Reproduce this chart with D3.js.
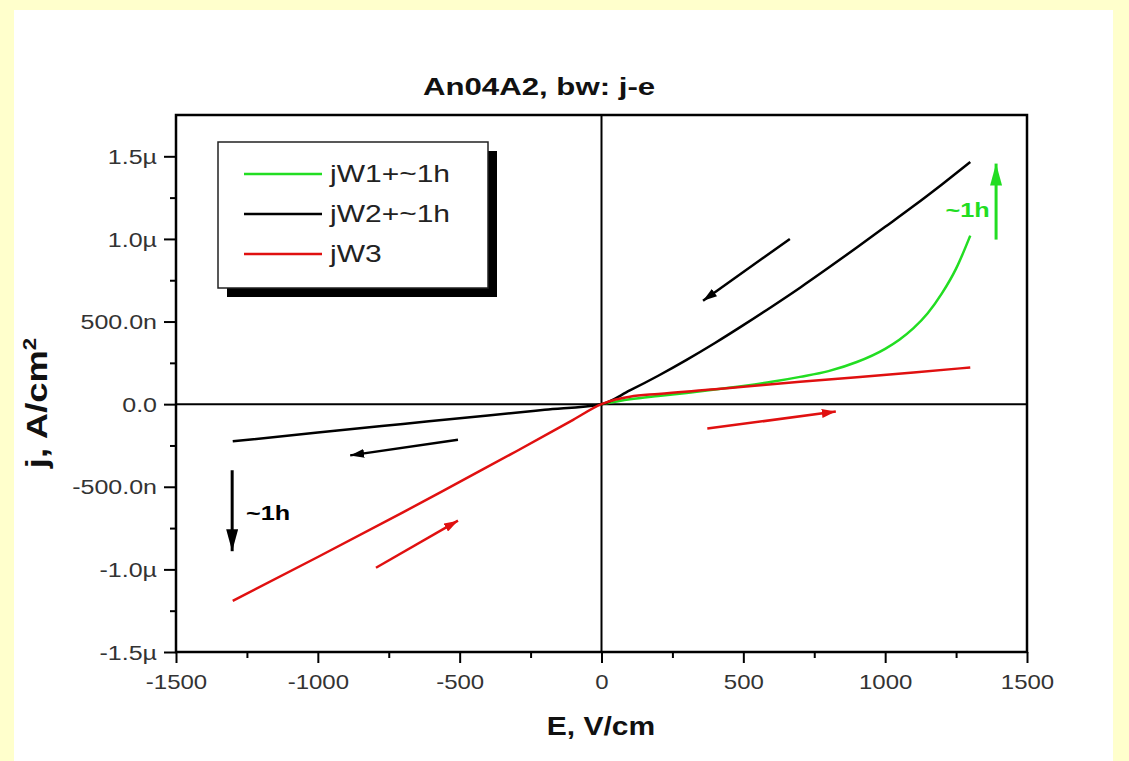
<!DOCTYPE html>
<html>
<head>
<meta charset="utf-8">
<script src="https://cdn.jsdelivr.net/npm/d3@7"></script>
<style>
body{margin:0;background:#ffffcc;}
svg{display:block;}
text{font-family:"Liberation Sans",Arial,sans-serif;}
</style>
</head>
<body>
<div id="chart"></div>
<script>
// j-E curves (E in V/cm, j in A/cm2)
var greenE = [0, 100, 200, 300, 400, 500, 600, 700, 800, 900, 1000, 1050, 1100, 1150, 1200, 1250, 1300];
var greenJ = [0, 0.03e-6, 0.05e-6, 0.068e-6, 0.088e-6, 0.11e-6, 0.135e-6, 0.165e-6, 0.2e-6, 0.255e-6, 0.335e-6, 0.39e-6, 0.46e-6, 0.55e-6, 0.67e-6, 0.82e-6, 1.02e-6];

var blackE = [-1300, -1000, -700, -400, -200, 0, 100, 200, 300, 400, 500, 600, 700, 800, 900, 1000, 1100, 1200, 1300];
var blackJ = [-0.225e-6, -0.172e-6, -0.12e-6, -0.068e-6, -0.034e-6, 0, 0.083e-6, 0.172e-6, 0.268e-6, 0.37e-6, 0.478e-6, 0.59e-6, 0.705e-6, 0.825e-6, 0.948e-6, 1.073e-6, 1.199e-6, 1.33e-6, 1.465e-6];

var redE = [-1300, -1000, -700, -500, -300, -100, 0, 50, 100, 200, 400, 500, 700, 900, 1100, 1300];
var redJ = [-1.19e-6, -0.925e-6, -0.655e-6, -0.47e-6, -0.285e-6, -0.095e-6, 0, 0.028e-6, 0.045e-6, 0.062e-6, 0.09e-6, 0.105e-6, 0.135e-6, 0.163e-6, 0.192e-6, 0.222e-6];

var seriesNames = ["jW1+~1h", "jW2+~1h", "jW3"];

var xTicks = [-1500, -1000, -500, 0, 500, 1000, 1500];
var xMinor = [-1250, -750, -250, 250, 750, 1250];
var yTicks = [-1.5e-6, -1.0e-6, -0.5e-6, 0, 0.5e-6, 1.0e-6, 1.5e-6];
var yTickLabels = ["-1.5\u00b5", "-1.0\u00b5", "-500.0n", "0.0", "500.0n", "1.0\u00b5", "1.5\u00b5"];
var yMinor = [-1.25e-6, -0.75e-6, -0.25e-6, 0.25e-6, 0.75e-6, 1.25e-6];

// arrows: [E0, j0, E1, j1] tail -> head
var blackArrows = [[664, 1.0e-6, 358, 0.626e-6], [-506, -0.215e-6, -886, -0.31e-6]];
var redArrows = [[-795, -0.99e-6, -506, -0.705e-6], [373, -0.148e-6, 826, -0.045e-6]];
var shiftArrows = [
	{E: -1302, from: -0.40e-6, to: -0.89e-6, color: "#000", lab: "~1h", lx: -1253, ly: -0.70e-6, anchor: "start"},
	{E: 1391, from: 0.996e-6, to: 1.456e-6, color: "#22dd22", lab: "~1h", lx: 1368, ly: 1.135e-6, anchor: "end"}
];

var W = 1129, H = 761;
var SX = 1.2; // text in the picture is a bit wide

var svg = d3.select("#chart").append("svg").attr("width", W).attr("height", H);

svg.append("rect").attr("x", 0).attr("y", 0).attr("width", W).attr("height", H).style("fill", "#ffffcc");
svg.append("rect").attr("x", 14).attr("y", 10).attr("width", 1099).attr("height", H - 10).style("fill", "#fff");

var X = d3.scaleLinear().domain([-1500, 1500]).range([176, 1027]),
	Y = d3.scaleLinear().domain([-1.5e-6, 1.75e-6]).range([652, 115]);

var defs = svg.append("defs");
function marker(id, col, w, l){
	defs.append("marker").attr("id", id)
		.attr("viewBox", "0 0 " + l + " " + w)
		.attr("refX", l).attr("refY", w / 2)
		.attr("markerUnits", "userSpaceOnUse")
		.attr("markerWidth", l).attr("markerHeight", w)
		.attr("orient", "auto")
		.append("path").attr("d", "M0,0L" + l + "," + (w / 2) + "L0," + w + "Z").style("fill", col);
}
marker("hb", "#000", 9, 14);
marker("hr", "#e01010", 9, 14);
marker("vb", "#000", 12, 22);
marker("vg", "#22dd22", 12, 22);

function stretchText(g, x, y, str, size, weight, anchor, col, sx){
	return g.append("text")
		.attr("transform", "translate(" + x + "," + y + ") scale(" + (sx || SX) + ",1)")
		.attr("text-anchor", anchor || "middle")
		.style("font-size", size + "px")
		.style("font-weight", weight || "normal")
		.style("fill", col || "#111")
		.text(str);
}

// title
stretchText(svg, 539, 95, "An04A2, bw: j-e", 24, "bold", "middle", "#111", 1.3);

// minor ticks
svg.append("g").attr("transform", "translate(0,652)")
	.call(d3.axisBottom(X).tickValues(xMinor).tickSize(6).tickFormat(""))
	.call(function(g){ g.select(".domain").remove(); g.selectAll("line").style("stroke-width", 2); });
svg.append("g").attr("transform", "translate(176,0)")
	.call(d3.axisLeft(Y).tickValues(yMinor).tickSize(6).tickFormat(""))
	.call(function(g){ g.select(".domain").remove(); g.selectAll("line").style("stroke-width", 2); });

// major ticks + labels
var xa = svg.append("g").attr("transform", "translate(0,652)")
	.call(d3.axisBottom(X).tickValues(xTicks).tickSize(11).tickFormat(function(d){ return String(d); }));
xa.select(".domain").remove();
xa.selectAll("line").style("stroke-width", 2);
xa.selectAll("text").attr("y", 37).attr("dy", 0)
	.attr("transform", "scale(" + SX + ",1)")
	.style("font-size", "20px").style("fill", "#333").style("font-family", "Liberation Sans, Arial, sans-serif");

var ya = svg.append("g").attr("transform", "translate(176,0)")
	.call(d3.axisLeft(Y).tickValues(yTicks).tickSize(12).tickFormat(function(d, i){ return yTickLabels[i]; }));
ya.select(".domain").remove();
ya.selectAll("line").style("stroke-width", 2);
ya.selectAll("text").attr("x", -19 / 1.25).attr("dy", "0.36em")
	.attr("transform", "scale(1.25,1)")
	.style("font-size", "20px").style("fill", "#333").style("font-family", "Liberation Sans, Arial, sans-serif");

// zero lines
svg.append("line").attr("x1", X(0)).attr("x2", X(0)).attr("y1", Y.range()[1]).attr("y2", Y.range()[0])
	.style("stroke", "#000").style("stroke-width", 2);
svg.append("line").attr("x1", X.range()[0]).attr("x2", X.range()[1]).attr("y1", Y(0)).attr("y2", Y(0))
	.style("stroke", "#000").style("stroke-width", 2);

// frame
svg.append("rect").attr("x", X.range()[0]).attr("y", Y.range()[1])
	.attr("width", X.range()[1] - X.range()[0]).attr("height", Y.range()[0] - Y.range()[1])
	.style("fill", "none").style("stroke", "#000").style("stroke-width", 2.5);

// curves
var line = d3.line().x(function(d){ return X(d[0]); }).y(function(d){ return Y(d[1]); }).curve(d3.curveMonotoneX);
var curves = [
	{pts: d3.zip(greenE, greenJ), col: "#22dd22"},
	{pts: d3.zip(blackE, blackJ), col: "#000"},
	{pts: d3.zip(redE, redJ), col: "#e01010"}
];
svg.selectAll(".curve").data(curves).enter().append("path")
	.attr("class", "curve")
	.attr("d", function(d){ return line(d.pts); })
	.style("fill", "none")
	.style("stroke", function(d){ return d.col; })
	.style("stroke-width", 2.5);

// direction arrows
svg.selectAll(".barrow").data(blackArrows).enter().append("line")
	.attr("class", "barrow")
	.attr("x1", function(d){ return X(d[0]); }).attr("y1", function(d){ return Y(d[1]); })
	.attr("x2", function(d){ return X(d[2]); }).attr("y2", function(d){ return Y(d[3]); })
	.style("stroke", "#000").style("stroke-width", 2.5).attr("marker-end", "url(#hb)");
svg.selectAll(".rarrow").data(redArrows).enter().append("line")
	.attr("class", "rarrow")
	.attr("x1", function(d){ return X(d[0]); }).attr("y1", function(d){ return Y(d[1]); })
	.attr("x2", function(d){ return X(d[2]); }).attr("y2", function(d){ return Y(d[3]); })
	.style("stroke", "#e01010").style("stroke-width", 2.5).attr("marker-end", "url(#hr)");

shiftArrows.forEach(function(d, i){
	svg.append("line")
		.attr("x1", X(d.E)).attr("x2", X(d.E)).attr("y1", Y(d.from)).attr("y2", Y(d.to))
		.style("stroke", d.color).style("stroke-width", 3)
		.attr("marker-end", i == 0 ? "url(#vb)" : "url(#vg)");
	stretchText(svg, X(d.lx), Y(d.ly), d.lab, 21, "bold", d.anchor, d.color);
});

// legend
var lg = svg.append("g").attr("transform", "translate(218,142)");
lg.append("rect").attr("x", 9).attr("y", 9).attr("width", 270).attr("height", 146).style("fill", "#000");
lg.append("rect").attr("x", 0).attr("y", 0).attr("width", 270).attr("height", 146)
	.style("fill", "#fff").style("stroke", "#222").style("stroke-width", 1.5);
var li = lg.selectAll(".li").data(curves).enter().append("g")
	.attr("class", "li")
	.attr("transform", function(d, i){ return "translate(0," + (32 + i * 40) + ")"; });
li.append("line").attr("x1", 26).attr("x2", 104).attr("y1", 0).attr("y2", 0)
	.style("stroke", function(d){ return d.col; }).style("stroke-width", 2.5);
li.each(function(d, i){
	stretchText(d3.select(this), 112, 8, seriesNames[i], 24, "normal", "start", "#222", 1.25);
});

// axis titles
stretchText(svg, 601, 735, "E, V/cm", 25, "bold", "middle", "#111");
var yl = svg.append("text")
	.attr("transform", "translate(47,403) scale(1.05,1.3) rotate(-90)")
	.attr("text-anchor", "middle")
	.style("font-size", "28px").style("font-weight", "bold").style("fill", "#111");
yl.append("tspan").text("j, A/cm");
yl.append("tspan").attr("dy", "-0.6em").style("font-size", "17px").text("2");
</script>
</body>
</html>
